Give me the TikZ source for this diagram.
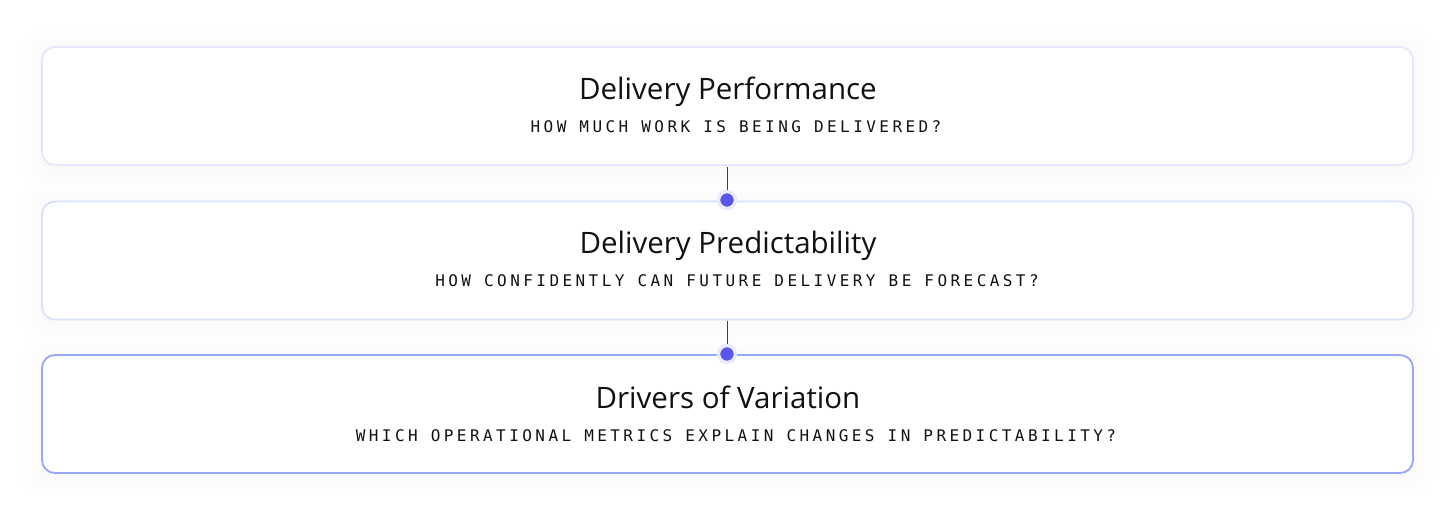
\documentclass[tikz,border=0pt]{standalone}
\usepackage{fontspec}
\setmainfont{Open Sans}
\newfontfamily\monof[LetterSpace=21.5]{DejaVu Sans Mono}
\definecolor{bordA}{HTML}{E4E7FD}
\definecolor{bordB}{HTML}{DCE1FB}
\definecolor{bordC}{HTML}{97A6F5}
\definecolor{dotc}{HTML}{5A56E9}
\definecolor{haloc}{HTML}{E9EBFD}
\definecolor{inkc}{HTML}{111111}
\begin{document}
\begin{tikzpicture}[x=1pt,y=-1pt,
  card/.style={draw=#1, line width=1.8pt, fill=white, rounded corners=13pt,
    minimum width=1371pt, minimum height=118pt, inner sep=0pt},
  halo/.style={fill=black, fill opacity=0.005, draw=none, rounded corners=22pt},
  ttl/.style={anchor=base, font=\fontsize{29.5}{31}\selectfont, text=inkc, inner sep=0pt},
  sub/.style={anchor=base, font=\monof\fontsize{16}{18}\selectfont, text=inkc, inner sep=0pt},
  pin/.style={circle, fill=dotc, draw=haloc, line width=3.5pt, minimum size=17pt, inner sep=0pt},
  link/.style={draw=black!75, line width=0.9pt}]
\useasboundingbox[fill=white] (0,0) rectangle (1456,521);
\foreach \y in {47,201,355}{
  \foreach \k in {4,8,12,16,20}{
    \fill[halo] (42-\k,\y-\k+3) rectangle (1413+\k,\y+118+\k+3);
  }
}
\node[card=bordA] (b1) at (727.5,106) {};
\node[card=bordB] (b2) at (727.5,260.5) {};
\node[card=bordC] (b3) at (727.5,414) {};
\node[ttl] (t1) at (728,100) {Delivery Performance};
\node[sub] (s1) at (736,133) {HOW MUCH WORK IS BEING DELIVERED?};
\node[ttl] (t2) at (728,254) {Delivery Predictability};
\node[sub] (s2) at (737,287) {HOW CONFIDENTLY CAN FUTURE DELIVERY BE FORECAST?};
\node[ttl] (t3) at (728,408) {Drivers of Variation};
\node[sub] (s3) at (736,441) {WHICH OPERATIONAL METRICS EXPLAIN CHANGES IN PREDICTABILITY?};
\coordinate (c1) at (727,167);
\coordinate (c2) at (727,321);
\node[pin] (d1) at (727,200) {};
\node[pin] (d2) at (727,354) {};
\draw[link] (c1) -- (d1.north);
\draw[link] (c2) -- (d2.north);
\end{tikzpicture}
\end{document}
